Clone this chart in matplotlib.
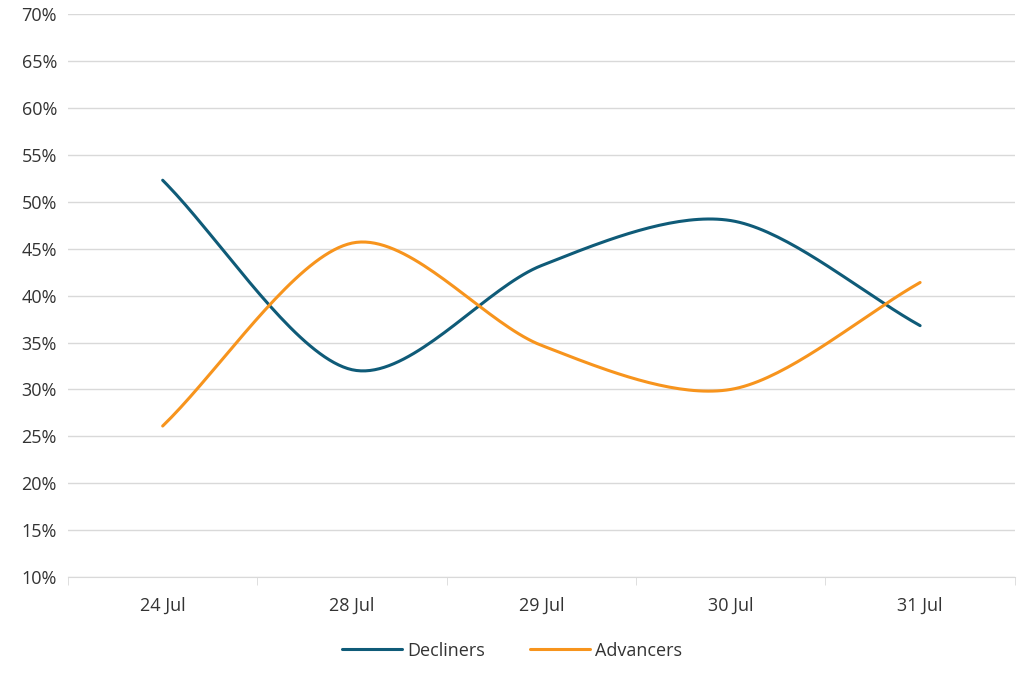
import numpy as np
import matplotlib
matplotlib.use("Agg")
import matplotlib.pyplot as plt
from matplotlib.ticker import FuncFormatter

categories = ["24 Jul", "28 Jul", "29 Jul", "30 Jul", "31 Jul"]
decliners = [52.3, 32.1, 43.2, 48.0, 36.8]
advancers = [26.1, 45.6, 34.7, 30.0, 41.4]

plt.rcParams['font.family'] = ['Open Sans', 'DejaVu Sans']

def smooth(x, y, n=40):
    # Catmull-Rom style smoothing through the data points (like Excel smoothed lines)
    x = np.asarray(x, float); y = np.asarray(y, float)
    px = np.concatenate([[2*x[0]-x[1]], x, [2*x[-1]-x[-2]]])
    py = np.concatenate([[2*y[0]-y[1]], y, [2*y[-1]-y[-2]]])
    xs, ys = [], []
    for i in range(1, len(px)-2):
        t = np.linspace(0, 1, n)
        for p, out in ((px, xs), (py, ys)):
            p0, p1, p2, p3 = p[i-1], p[i], p[i+1], p[i+2]
            m1 = (p2 - p0) / 2 * 0.9
            m2 = (p3 - p1) / 2 * 0.9
            h00 = 2*t**3 - 3*t**2 + 1; h10 = t**3 - 2*t**2 + t
            h01 = -2*t**3 + 3*t**2; h11 = t**3 - t**2
            out.extend(h00*p1 + h10*m1 + h01*p2 + h11*m2)
    return np.array(xs), np.array(ys)

fig = plt.figure(figsize=(10.24, 6.76), dpi=100)
ax = fig.add_axes([0.0664, 0.1464, 0.9246, 0.8326])
x = np.arange(len(categories))
for vals, col, lab in ((decliners, "#0f5b78", "Decliners"), (advancers, "#f7941d", "Advancers")):
    sx, sy = smooth(x, vals)
    ax.plot(sx, sy, color=col, lw=2.2, label=lab, solid_capstyle='round')

ax.set_xlim(-0.5, len(categories) - 0.5)
ax.set_ylim(10, 70)
ax.set_yticks(np.arange(10, 71, 5))
ax.yaxis.set_major_formatter(FuncFormatter(lambda v, p: f"{v:.0f}%"))
ax.grid(axis='y', color='#d9d9d9', lw=1)
ax.set_axisbelow(True)
ax.set_xticks(x)
ax.set_xticklabels(categories)
ax.set_xticks(np.arange(-0.5, len(categories)), minor=True)
ax.tick_params(axis='x', which='major', length=0, pad=14, labelsize=13, colors='#333333')
ax.tick_params(axis='x', which='minor', length=6, color='#d9d9d9')
ax.tick_params(axis='y', length=0, labelsize=13, colors='#333333', pad=8)
for s in ('top', 'right', 'left'):
    ax.spines[s].set_visible(False)
ax.spines['bottom'].set_color('#d9d9d9')
fig.legend(loc='lower center', bbox_to_anchor=(0.5, 0.0), ncol=2, frameon=False,
           fontsize=13, handlelength=3.3, handletextpad=0.3, columnspacing=2.5,
           labelcolor='#333333')
fig.savefig("out.png", dpi=100)
